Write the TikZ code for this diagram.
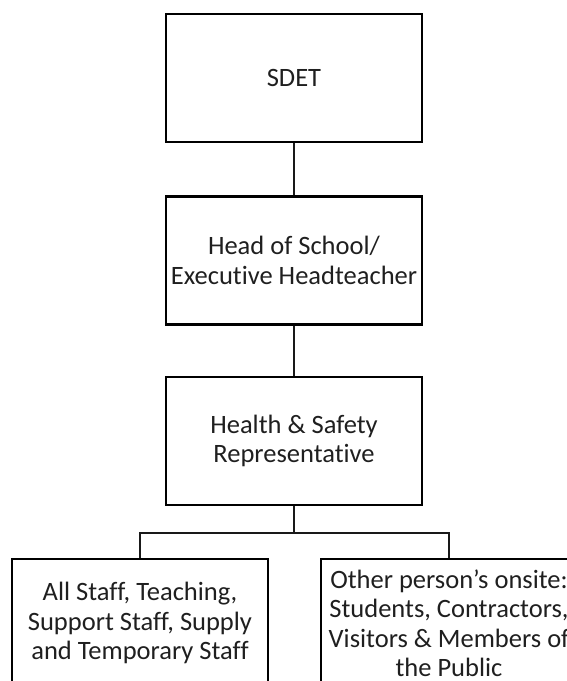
\documentclass[tikz,border=0pt]{standalone}
\usepackage{fontspec}
\setmainfont[Ligatures=NoCommon]{Carlito}
\begin{document}
\begin{tikzpicture}[x=1pt,y=-1pt,
  box/.style={draw=black, line width=2.4pt, minimum width=256pt, minimum height=128pt,
    align=center, inner sep=0pt, text=black!88, font=\fontsize{26.5}{29.5}\selectfont},
  link/.style={draw=black!90, line width=2.2pt}]
\useasboundingbox (0,0) rectangle (567,681);
\clip (0,0) rectangle (567,681);
\node[box] (sdet) at (294,78) {SDET};
\node[box] (head) at (294,260.5) {Head of School/\\Executive Headteacher};
\node[box] (hs) at (294,441) {Health \& Safety\\Representative};
\node[box] (staff) at (140,623) {All Staff, Teaching,\\Support Staff, Supply\\and Temporary Staff};
\node[box] (other) at (449,623) {Other person’s onsite:\\Students, Contractors,\\Visitors \& Members of\\the Public};
\draw[link] (sdet.south) -- (head.north);
\draw[link] (head.south) -- (hs.north);
\draw[link] (hs.south) -- ++(0,27) coordinate (split) -| (staff.north);
\draw[link] (split) -| (other.north);
\end{tikzpicture}
\end{document}
